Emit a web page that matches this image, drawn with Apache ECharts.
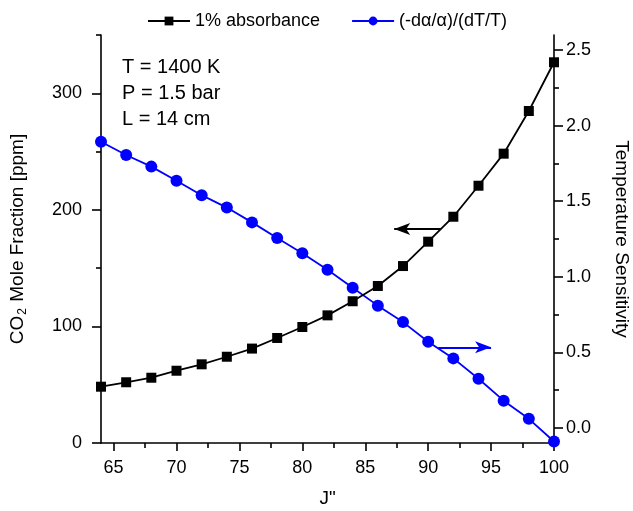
<!DOCTYPE html>
<html>
<head>
<meta charset="utf-8">
<script src="https://cdn.jsdelivr.net/npm/echarts@6/dist/echarts.min.js"></script>
<style>
html,body{margin:0;padding:0;background:#fff;}
#chart{width:633px;height:511px;}
</style>
</head>
<body>
<div id="chart"></div>
<script>
// ---- data ----
const jValues = [64,66,68,70,72,74,76,78,80,82,84,86,88,90,92,94,96,98,100];
const absorbancePpm = [48.3,52.1,56.0,62.0,67.5,74.0,81.0,90.1,99.5,109.5,121.6,134.7,151.8,172.7,194.1,220.7,248.2,284.8,326.6];
const tempSensitivity = [1.894,1.806,1.729,1.636,1.540,1.458,1.360,1.256,1.156,1.046,0.927,0.809,0.700,0.570,0.460,0.325,0.180,0.060,-0.090];
const xMajorTicks = [65,70,75,80,85,90,95,100];
const xMinorTicks = [67.5,72.5,77.5,82.5,87.5,92.5,97.5];
const leftMajorTicks = [0,100,200,300];
const leftMinorTicks = [50,150,250,350];
const rightMajorTicks = [0,0.5,1.0,1.5,2.0,2.5];
const rightMinorTicks = [0.25,0.75,1.25,1.75,2.25];
const seriesNames = ['1% absorbance', '(-d\u03b1/\u03b1)/(dT/T)'];
const annotationLines = ['T = 1400 K', 'P = 1.5 bar', 'L = 14 cm'];
// arrow annotations (data coordinates): [fromJ, toJ, value]
const leftArrow = [91.0, 87.3, 183.6];
const rightArrow = [90.8, 95.0, 0.533];

const FONT = 'Liberation Sans, Arial, sans-serif';
const chart = echarts.init(document.getElementById('chart'), null, {renderer: 'canvas'});
const gridPos = {left: 101, right: 79, top: 35, bottom: 68, containLabel: false, outerBoundsMode: 'none'};
const axisLineStyle = {color: '#000', width: 1.6};

function majorAxisBase() {
  return {
    axisLine: {show: true, onZero: false, lineStyle: axisLineStyle},
    splitLine: {show: false},
    axisLabel: {color: '#000', fontFamily: FONT, fontSize: 18},
  };
}

const option = {
  animation: false,
  backgroundColor: '#fff',
  grid: [
    Object.assign({}, gridPos),
    Object.assign({}, gridPos)
  ],
  legend: {
    top: 7, left: 142,
    itemWidth: 42, itemHeight: 11, itemGap: 31,
    textStyle: {fontFamily: FONT, fontSize: 18, color: '#000'},
    data: seriesNames
  },
  xAxis: [
    Object.assign(majorAxisBase(), {
      type: 'value', gridIndex: 0, min: 64, max: 100, position: 'bottom',
      name: 'J"', nameLocation: 'middle', nameGap: 46,
      nameTextStyle: {fontFamily: FONT, fontSize: 19, color: '#000'},
      axisTick: {show: true, inside: false, length: 8, lineStyle: axisLineStyle, customValues: xMajorTicks},
      axisLabel: {color: '#000', fontFamily: FONT, fontSize: 18, margin: 16, customValues: xMajorTicks}
    }),
    {
      type: 'value', gridIndex: 1, min: 64, max: 100, position: 'bottom',
      axisLine: {show: false}, splitLine: {show: false}, axisLabel: {show: false},
      axisTick: {show: true, inside: false, length: 5, lineStyle: axisLineStyle, customValues: xMinorTicks}
    }
  ],
  yAxis: [
    Object.assign(majorAxisBase(), {
      type: 'value', gridIndex: 0, min: 0, max: 350, position: 'left',
      name: 'CO{sub|2} Mole Fraction [ppm]', nameLocation: 'middle', nameGap: 72, nameRotate: 90,
      nameTextStyle: {fontFamily: FONT, fontSize: 19, color: '#000',
        rich: {sub: {fontFamily: FONT, fontSize: 12, color: '#000', padding: [10, 1, 0, 1]}}},
      axisTick: {show: true, inside: false, length: 9, lineStyle: axisLineStyle, customValues: leftMajorTicks},
      axisLabel: {color: '#000', fontFamily: FONT, fontSize: 18, margin: 19, customValues: leftMajorTicks}
    }),
    Object.assign(majorAxisBase(), {
      type: 'value', gridIndex: 0, min: -0.1, max: 2.6, position: 'right',
      name: 'Temperature Sensitivity', nameLocation: 'middle', nameGap: 58, nameRotate: -90,
      nameTextStyle: {fontFamily: FONT, fontSize: 19, color: '#000'},
      axisTick: {show: true, inside: false, length: 9, lineStyle: axisLineStyle, customValues: rightMajorTicks},
      axisLabel: {color: '#000', fontFamily: FONT, fontSize: 18, margin: 12, customValues: rightMajorTicks,
        formatter: v => Number(v).toFixed(1)}
    }),
    {
      type: 'value', gridIndex: 1, min: 0, max: 350, position: 'left',
      axisLine: {show: false}, splitLine: {show: false}, axisLabel: {show: false},
      axisTick: {show: true, inside: false, length: 5, lineStyle: axisLineStyle, customValues: leftMinorTicks}
    },
    {
      type: 'value', gridIndex: 1, min: -0.1, max: 2.6, position: 'right',
      axisLine: {show: false}, splitLine: {show: false}, axisLabel: {show: false},
      axisTick: {show: true, inside: false, length: 5, lineStyle: axisLineStyle, customValues: rightMinorTicks}
    }
  ],
  graphic: [{
    type: 'text', left: 122, top: 54,
    style: {text: annotationLines.join('\n'), font: '20px ' + FONT, lineHeight: 26, fill: '#000'}
  }],
  series: [
    {
      name: seriesNames[1], type: 'line', xAxisIndex: 0, yAxisIndex: 1,
      data: jValues.map((j, i) => [j, tempSensitivity[i]]),
      symbol: 'circle', symbolSize: 12,
      lineStyle: {color: '#0000ff', width: 1.8},
      itemStyle: {color: '#0000ff'},
      markLine: {
        silent: true, animation: false,
        symbol: ['none', 'arrow'], symbolSize: [9, 16],
        lineStyle: {color: '#0000ff', width: 1.8, type: 'solid'},
        label: {show: false},
        data: [[{coord: [rightArrow[0], rightArrow[2]]}, {coord: [rightArrow[1], rightArrow[2]]}]]
      }
    },
    {
      name: seriesNames[0], type: 'line', xAxisIndex: 0, yAxisIndex: 0,
      data: jValues.map((j, i) => [j, absorbancePpm[i]]),
      symbol: 'rect', symbolSize: 10,
      lineStyle: {color: '#000', width: 1.8},
      itemStyle: {color: '#000'},
      markLine: {
        silent: true, animation: false,
        symbol: ['none', 'arrow'], symbolSize: [9, 16],
        lineStyle: {color: '#000', width: 1.8, type: 'solid'},
        label: {show: false},
        data: [[{coord: [leftArrow[0], leftArrow[2]]}, {coord: [leftArrow[1], leftArrow[2]]}]]
      }
    }
  ]
};
chart.setOption(option);
</script>
</body>
</html>
